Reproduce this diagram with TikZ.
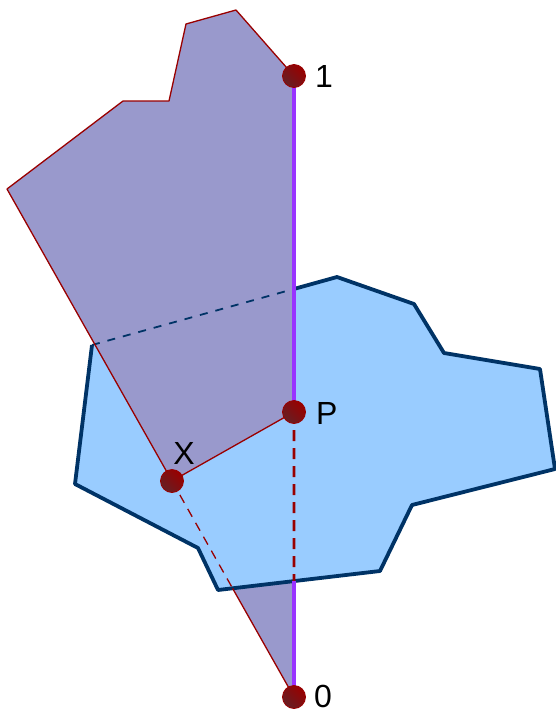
\documentclass[tikz,border=0pt]{standalone}
\usepackage{fontspec}
\setmainfont{Liberation Sans}
\usepackage{tikz}
\usetikzlibrary{calc}
\definecolor{darkred}{rgb}{0.6,0,0}
\definecolor{dotdark}{rgb}{0.4,0.12,0.14}
\definecolor{navy}{rgb}{0,0.2,0.4}
\definecolor{lightblue}{rgb}{0.6,0.8,1}
\definecolor{lilac}{rgb}{0.6,0.6,0.8}
\definecolor{segcol}{rgb}{0.6,0.2,1}

\tikzset{
  lbl/.style={inner sep=0pt, font=\fontsize{32}{38}\selectfont},
  dotmark/.style={draw=darkred, line width=0.8pt, left color=darkred,
    right color=dotdark, shading angle=-45},
}

\begin{document}
\begin{tikzpicture}[x=1pt,y=-1pt]
    \useasboundingbox (0,0) rectangle (556,713);
    % Define points
    \coordinate (one) at (294,76);
    \coordinate (zero) at (294,697);
    \coordinate (P) at (294,412);
    \coordinate (X) at (172,481);
    % Purple polygon
    \coordinate (T1) at (236,10);
    \coordinate (T2) at (186,24);
    \coordinate (T3) at (169,101);
    \coordinate (T4) at (123,101);
    \coordinate (T5) at (7,189);
    % Blue polygon
    \coordinate (B1) at (92,345);
    \coordinate (B2) at (337,277);
    \coordinate (B3) at (414,304);
    \coordinate (B4) at (444,353);
    \coordinate (B5) at (540,369);
    \coordinate (B6) at (555,469);
    \coordinate (B7) at (412,505);
    \coordinate (B8) at (380,571);
    \coordinate (B9) at (218,590);
    \coordinate (B10) at (198,548);
    \coordinate (B11) at (75,484);
    % Crossings
    \coordinate (Itop) at (intersection of B1--B2 and one--zero);
    \coordinate (Pbot) at (intersection of B8--B9 and one--zero);
    \coordinate (Xbot) at (intersection of B8--B9 and T5--zero);
    % Fills
    \fill[lilac] (one) -- (T1) -- (T2) -- (T3) -- (T4) -- (T5) -- (zero) -- cycle;
    \fill[lightblue] (B1) -- (B2) -- (B3) -- (B4) -- (B5) -- (B6) -- (B7)
      -- (B8) -- (B9) -- (B10) -- (B11) -- cycle;
    \fill[lilac] (one) -- (T1) -- (T2) -- (T3) -- (T4) -- (T5) -- (X) -- (P) -- cycle;
    % Blue outline
    \draw[navy, line width=3.8pt, line join=round] (Itop) -- (B2) -- (B3) -- (B4)
      -- (B5) -- (B6) -- (B7) -- (B8) -- (B9) -- (B10) -- (B11) -- (B1);
    \draw[navy, line width=1.8pt, dash pattern=on 8pt off 8pt] (B1) -- (Itop);
    % Red outline
    \draw[darkred, line width=1.3pt, line join=round] (one) -- (T1) -- (T2) -- (T3)
      -- (T4) -- (T5) -- (X) -- (P);
    \draw[darkred, line width=1.3pt, dash pattern=on 9pt off 7pt] (X) -- (Xbot);
    \draw[darkred, line width=1.3pt] (Xbot) -- (zero);
    \draw[darkred, line width=2.6pt, dash pattern=on 11pt off 7pt] (P) -- (Pbot);
    % Segment 0-1
    \draw[segcol, line width=3.6pt] (one) -- (P);
    \draw[segcol, line width=3.6pt] (Pbot) -- (zero);
    % Mark points
    \foreach \pt in {one,zero,P,X}
      \draw[dotmark] (\pt) circle (11.5pt);
    % Labels
    \node[lbl, anchor=base west] (lone) at (315,87) {1};
    \node[lbl, anchor=base west] (lP) at (316,424) {P};
    \node[lbl, anchor=base] (lX) at (184,464) {X};
    \node[lbl, anchor=base west] (lzero) at (314,707) {0};
\end{tikzpicture}
\end{document}
